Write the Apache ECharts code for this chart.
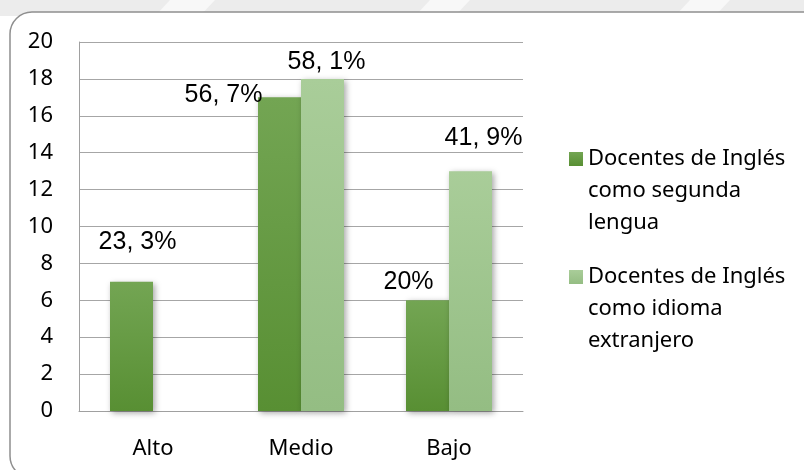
<!DOCTYPE html>
<html>
<head>
<meta charset="utf-8">
<script src="https://cdn.jsdelivr.net/npm/echarts@6/dist/echarts.min.js"></script>
<style>
  html, body { margin: 0; padding: 0; background: #fff; }
  #chart { width: 804px; height: 470px; }
</style>
</head>
<body>
<div id="chart"></div>
<script>
// datos
var categories = ["Alto", "Medio", "Bajo"];
var seriesNames = [
  "Docentes de Inglés\ncomo segunda\nlengua",
  "Docentes de Inglés\ncomo idioma\nextranjero"
];
var segundaLengua = [7, 17, 6];
var idiomaExtranjero = [null, 18, 13];
var segundaLabels = ["23, 3%", "56, 7%", "20%"];
var extranjeroLabels = ["", "58, 1%", "41, 9%"];
var yTicks = { min: 0, max: 20, interval: 2 };

// desplazamiento de las etiquetas (como en el original de Excel)
var segundaOffsets = [[6, -22], [-56, 15], [-19, -1]];
var extranjeroOffsets = [[0, 0], [4, 1], [13, -16]];

var chart = echarts.init(document.getElementById("chart"));

function buildData(values, labels, offsets) {
  return values.map(function (v, i) {
    return {
      value: v,
      label: { formatter: labels[i], offset: offsets[i] }
    };
  });
}

var labelStyle = {
  show: true,
  position: "top",
  distance: 5,
  fontFamily: "Liberation Sans",
  fontSize: 25,
  color: "#000"
};

// la leyenda de Excel alinea el cuadrado con la primera línea
function legendItem(name, top) {
  return {
    data: [name],
    left: 569,
    top: top,
    padding: 0,
    icon: "rect",
    itemWidth: 14,
    itemHeight: 14,
    formatter: function (n) {
      return " \n \n" + n;
    },
    textStyle: {
      fontFamily: "Noto Sans",
      fontSize: 22,
      lineHeight: 32,
      color: "#000"
    }
  };
}

var option = {
  animation: false,
  graphic: [
    { type: "rect", z: -20, shape: { x: 0, y: 0, width: 804, height: 16 }, style: { fill: "#ececec" } },
    { type: "polygon", z: -19, shape: { points: [[170, 0], [215, 0], [200, 16], [155, 16]] }, style: { fill: "#f8f8f8" } },
    { type: "polygon", z: -19, shape: { points: [[430, 0], [470, 0], [455, 16], [415, 16]] }, style: { fill: "#f8f8f8" } },
    { type: "polygon", z: -19, shape: { points: [[690, 0], [730, 0], [715, 16], [675, 16]] }, style: { fill: "#f8f8f8" } },
    {
      type: "rect",
      z: -10,
      shape: { x: 10, y: 12, width: 820, height: 466, r: 22 },
      style: { fill: "#fff", stroke: "#8f8f8f", lineWidth: 1.5 }
    }
  ],
  legend: [legendItem(seriesNames[0], 79), legendItem(seriesNames[1], 197)],
  grid: {
    left: 79,
    top: 42,
    right: 281,
    bottom: 59
  },
  xAxis: {
    type: "category",
    data: categories,
    axisTick: { show: false },
    axisLine: { lineStyle: { color: "#a0a0a0", width: 1 } },
    axisLabel: {
      margin: 27,
      fontFamily: "Noto Sans",
      fontSize: 22,
      color: "#000"
    }
  },
  yAxis: {
    type: "value",
    min: yTicks.min,
    max: yTicks.max,
    interval: yTicks.interval,
    axisLine: { show: true, lineStyle: { color: "#a0a0a0", width: 1 } },
    axisTick: { show: false },
    splitLine: { lineStyle: { color: "#a6a6a6", width: 1 } },
    axisLabel: {
      margin: 26,
      fontFamily: "Noto Sans",
      fontSize: 22,
      color: "#000"
    }
  },
  series: [
    {
      name: seriesNames[0],
      type: "bar",
      barWidth: 43,
      barGap: "0%",
      data: buildData(segundaLengua, segundaLabels, segundaOffsets),
      label: labelStyle,
      itemStyle: {
        color: new echarts.graphic.LinearGradient(0, 0, 0, 1, [
          { offset: 0, color: "#73a553" },
          { offset: 1, color: "#588f33" }
        ]),
        shadowBlur: 6,
        shadowColor: "rgba(0,0,0,0.35)",
        shadowOffsetX: 2,
        shadowOffsetY: 2
      }
    },
    {
      name: seriesNames[1],
      type: "bar",
      barWidth: 43,
      barGap: "0%",
      data: buildData(idiomaExtranjero, extranjeroLabels, extranjeroOffsets),
      label: labelStyle,
      itemStyle: {
        color: new echarts.graphic.LinearGradient(0, 0, 0, 1, [
          { offset: 0, color: "#a9cd99" },
          { offset: 1, color: "#94bd83" }
        ]),
        shadowBlur: 6,
        shadowColor: "rgba(0,0,0,0.35)",
        shadowOffsetX: 2,
        shadowOffsetY: 2
      }
    }
  ]
};

// color del icono de la leyenda
option.series[0].color = "#5e9a3e";
option.series[1].color = "#a6cb93";

chart.setOption(option);
</script>
</body>
</html>
